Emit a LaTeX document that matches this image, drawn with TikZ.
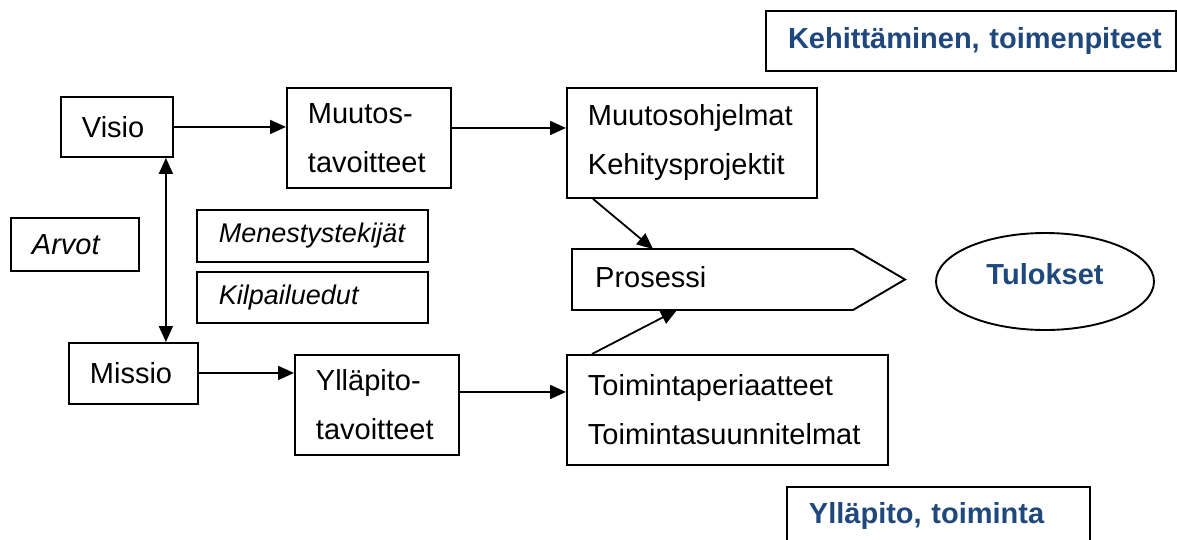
\documentclass[tikz,border=0pt]{standalone}
\usepackage{fontspec}
\setmainfont{Liberation Sans}
\usetikzlibrary{arrows.meta,shapes.geometric,calc}
\definecolor{hdblue}{RGB}{31,73,125}
\hyphenpenalty=10000
\tikzset{
  box/.style={draw, line width=1.9pt, anchor=north west, inner xsep=21pt, inner ysep=0pt,
    align=left, font=\fontsize{29}{49}\selectfont},
  ibox/.style={box, font=\fontsize{27}{30}\selectfont\itshape},
  bluebox/.style={draw, line width=1.9pt, anchor=north west, inner ysep=0pt,
    text=hdblue, font=\fontsize{29}{35}\selectfont\bfseries},
  conn/.style={line width=1.8pt, -{Triangle[length=16pt,width=14pt]}},
  dconn/.style={line width=1.8pt, {Triangle[length=16pt,width=14pt]}-{Triangle[length=16pt,width=14pt]}},
  shapeline/.style={line width=1.9pt, line join=miter}
}
\begin{document}
\begin{tikzpicture}[x=1pt,y=-1pt]
\useasboundingbox[fill=white] (0,0) rectangle (1177,539);
\clip (0,0) rectangle (1177,539);

% header boxes
\node[bluebox, inner xsep=0pt, text width=410pt, align=center, minimum height=60pt] (keh) at (765,10) {\hspace*{8pt}Kehittäminen, toimenpiteet};
\node[bluebox, inner xsep=22pt, text width=259pt, align=left, minimum height=59pt] (yll) at (786,486) {Ylläpito, toiminta};

% left column
\node[box, text width=70pt, minimum height=60pt] (visio) at (60,96) {Visio};
\node[box, text width=87pt, minimum height=61pt] (missio) at (68,342) {Missio};
\node[box, font=\fontsize{29}{35}\selectfont\itshape, text width=86pt, minimum height=53pt] (arvot) at (10,217) {Arvot};

% middle
\node[ibox, inner xsep=22pt, text width=187pt, minimum height=52pt] (mene) at (196,209) {Menestystekijät};
\node[ibox, inner xsep=22pt, text width=187pt, minimum height=51pt] (kilp) at (196,271) {Kilpailuedut};
\node[box, text width=122pt, minimum height=100pt] (muutos) at (286,87) {Muutos-\\tavoitteet};
\node[box, text width=122pt, minimum height=100pt] (ylt) at (294,354) {Ylläpito-\\tavoitteet};

% right
\node[box, text width=208pt, minimum height=110pt] (mo) at (566,87) {Muutosohjelmat\\Kehitysprojektit};
\node[box, text width=279pt, minimum height=110pt] (ta) at (566,354) {Toimintaperiaatteet\\Toimintasuunnitelmat};

% process pentagon
\coordinate (p1) at (572,249);
\coordinate (p2) at (853,249);
\coordinate (ptip) at (905,279.5);
\coordinate (p4) at (853,310);
\coordinate (p5) at (572,310);
\draw[shapeline] (p1) -- (p2) -- (ptip) -- (p4) -- (p5) -- cycle;
\node[anchor=base west, inner sep=0pt, font=\fontsize{29}{35}\selectfont] (prosessi) at (595,287) {Prosessi};
\coordinate (pin1) at (653,249);
\coordinate (pin2) at (677,310);

% result
\node[draw, ellipse, line width=1.9pt, minimum width=218pt, minimum height=97pt, inner sep=0pt,
  text=hdblue, font=\fontsize{29}{35}\selectfont\bfseries, text depth=16pt] (tul) at (1045,281.5) {Tulokset};

% connectors
\draw[conn] (visio.east) -- (visio.east -| muutos.west);
\draw[conn] ([yshift=10pt]muutos.east) -- ([yshift=10pt]muutos.east -| mo.west);
\draw[conn] ([yshift=0.5pt]missio.east) -- ([yshift=0.5pt]missio.east -| ylt.west);
\draw[conn] ([yshift=13pt]ylt.east) -- ([yshift=13pt]ylt.east -| ta.west);
\draw[dconn] ([xshift=-8pt]visio.south east) -- ([xshift=-8pt]visio.south east |- missio.north);
\draw[conn] ([xshift=27pt]mo.south west) -- (pin1);
\draw[conn] ([xshift=26pt]ta.north west) -- (pin2);
\end{tikzpicture}
\end{document}
